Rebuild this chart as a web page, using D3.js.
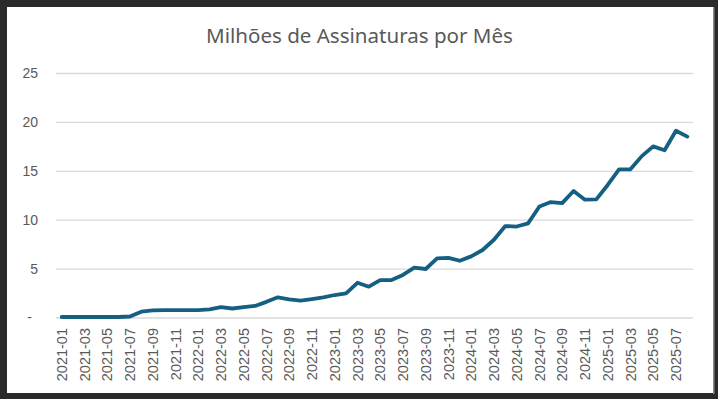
<!DOCTYPE html>
<html><head><meta charset="utf-8">
<script src="https://cdn.jsdelivr.net/npm/d3@7"></script>
<style>html,body{margin:0;padding:0;background:#2a2a2a;}svg{display:block;}</style>
</head><body>
<svg id="chart" width="718" height="399"></svg>
<script>
const title = "Milhões de Assinaturas por Mês";
const months = [];
for (let y = 2021; y <= 2025; y++) for (let m = 1; m <= 12; m++) {
  if (y === 2025 && m > 8) break;
  months.push(y + "-" + String(m).padStart(2, "0"));
}
const values = [
  0.05, 0.05, 0.05, 0.05, 0.05, 0.05, 0.1, 0.6, 0.72, 0.75, 0.75, 0.75,
  0.75, 0.84, 1.05, 0.92, 1.05, 1.18, 1.6, 2.06, 1.85, 1.72, 1.89, 2.06,
  2.3, 2.47, 3.55, 3.15, 3.83, 3.83, 4.35, 5.1, 4.96, 6.05, 6.1, 5.8,
  6.25, 6.9, 7.95, 9.35, 9.3, 9.63, 11.35, 11.8, 11.7, 12.93, 12.05, 12.08,
  13.55, 15.15, 15.15, 16.5, 17.5, 17.1, 19.1, 18.5
];
const yTicks = [0, 5, 10, 15, 20, 25];
const xTickLabels = months.filter((d, i) => i % 2 === 0);

const svg = d3.select("#chart");
svg.append("rect").attr("x", 0).attr("y", 0).attr("width", 718).attr("height", 399).attr("fill", "#2a2a2a");
svg.append("rect").attr("x", 713).attr("y", 7).attr("width", 1.5).attr("height", 387).attr("fill", "#8a8a8a");
svg.append("rect").attr("x", 7).attr("y", 7).attr("width", 706).attr("height", 386).attr("fill", "#ffffff");

const x = d3.scaleBand().domain(months).range([56, 693]).padding(0);
const y = d3.scaleLinear().domain([0, 25]).range([317.5, 73]);
const cx = d => x(d) + x.bandwidth() / 2;

// gridlines + y axis
const yAxis = svg.append("g").attr("transform", "translate(56,0)")
  .call(d3.axisLeft(y).tickValues(yTicks).tickSize(-637).tickPadding(18)
    .tickFormat(d => d === 0 ? "-" : d3.format("d")(d)));
yAxis.select(".domain").remove();
yAxis.selectAll(".tick line").attr("stroke", "#d9d9d9").attr("stroke-width", 1.3);
yAxis.selectAll(".tick text").attr("fill", "#595959")
  .style("font-family", "'Liberation Sans', Arial, sans-serif").style("font-size", "14px");
yAxis.selectAll(".tick text").filter(d => d === 0).attr("x", -24);

// x axis
const xAxis = svg.append("g").attr("transform", "translate(0,317.5)")
  .call(d3.axisBottom(x).tickValues(xTickLabels).tickSize(0));
xAxis.select(".domain").remove();
xAxis.selectAll(".tick text")
  .attr("fill", "#595959")
  .style("font-family", "'Liberation Sans', Arial, sans-serif").style("font-size", "14.5px")
  .attr("transform", "rotate(-90)")
  .attr("text-anchor", "end")
  .attr("x", -10.5).attr("y", 0).attr("dy", "0.35em");

// line
const line = d3.line().x((d, i) => cx(months[i])).y(d => y(d));
svg.append("path").datum(values)
  .attr("fill", "none").attr("stroke", "#156082").attr("stroke-width", 3.8)
  .attr("stroke-linejoin", "round").attr("stroke-linecap", "round")
  .attr("d", line);

// title
const t = svg.append("text").text(title)
  .attr("x", 359.5).attr("y", 43).attr("text-anchor", "middle")
  .attr("fill", "#595959")
  .style("font-family", "'Noto Sans', 'Open Sans', sans-serif").style("font-size", "20px");
const w = t.node().getComputedTextLength();
t.style("font-size", (20 * 307 / w).toFixed(2) + "px");
</script>
</body></html>
